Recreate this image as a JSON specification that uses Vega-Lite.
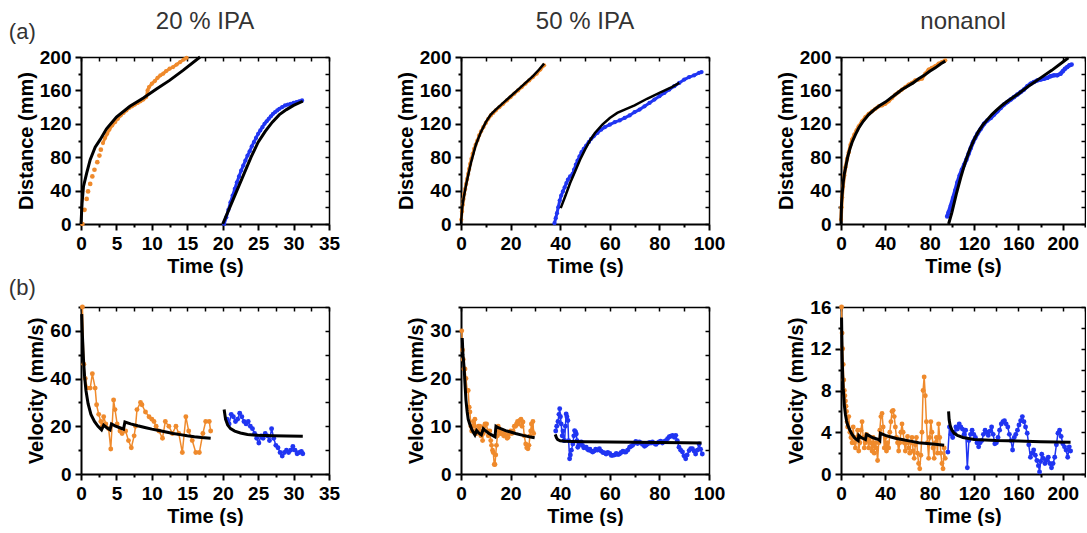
{
"$schema":"https://vega.github.io/schema/vega-lite/v6.json",
"background":"white",
"padding":{"left":8,"top":10,"right":0,"bottom":0},
"title":{"text":"(a)","anchor":"start","frame":"bounds","fontSize":22,"font":"Liberation Sans","fontWeight":"normal","color":"#333333","dy":48,"dx":0},
"columns":3,
"bounds":"flush",
"spacing":{"row":83,"column":132},
"datasets":{
"d1":[
{"t":0.2,"v":0,"s":"os"},{"t":0.5,"v":17,"s":"os"},{"t":0.8,"v":30,"s":"os"},{"t":1.0,"v":39,"s":"os"},{"t":1.3,"v":48,"s":"os"},{"t":1.6,"v":57,"s":"os"},{"t":1.9,"v":65,"s":"os"},{"t":2.3,"v":74,"s":"os"},{"t":2.6,"v":82,"s":"os"},{"t":2.8,"v":89,"s":"os"},
{"t":3.1,"v":97,"s":"o"},{"t":3.4,"v":103,"s":"o"},{"t":3.7,"v":108,"s":"o"},{"t":4.0,"v":113,"s":"o"},{"t":4.4,"v":118,"s":"o"},{"t":4.8,"v":122,"s":"o"},{"t":5.2,"v":126,"s":"o"},{"t":5.6,"v":130,"s":"o"},{"t":6.0,"v":133,"s":"o"},{"t":6.4,"v":136,"s":"o"},{"t":6.8,"v":139,"s":"o"},{"t":7.2,"v":141,"s":"o"},{"t":7.6,"v":143,"s":"o"},{"t":8.0,"v":145,"s":"o"},{"t":8.4,"v":147,"s":"o"},{"t":8.8,"v":149,"s":"o"},{"t":9.2,"v":152,"s":"o"},{"t":9.4,"v":160,"s":"o"},{"t":9.6,"v":164,"s":"o"},{"t":10.0,"v":168,"s":"o"},{"t":10.4,"v":171,"s":"o"},{"t":10.8,"v":175,"s":"o"},{"t":11.2,"v":178,"s":"o"},{"t":11.6,"v":180,"s":"o"},{"t":12.0,"v":183,"s":"o"},{"t":12.5,"v":186,"s":"o"},{"t":13.0,"v":188,"s":"o"},{"t":13.5,"v":191,"s":"o"},{"t":14.0,"v":194,"s":"o"},{"t":14.5,"v":197,"s":"o"},{"t":14.9,"v":199,"s":"o"},
{"t":20.2,"v":0,"s":"b"},{"t":20.5,"v":8,"s":"b"},{"t":20.8,"v":17,"s":"b"},{"t":21.1,"v":26,"s":"b"},{"t":21.4,"v":34,"s":"b"},{"t":21.7,"v":42,"s":"b"},{"t":22.0,"v":50,"s":"b"},{"t":22.3,"v":57,"s":"b"},{"t":22.6,"v":64,"s":"b"},{"t":22.9,"v":70,"s":"b"},{"t":23.2,"v":76,"s":"b"},{"t":23.5,"v":82,"s":"b"},{"t":23.8,"v":87,"s":"b"},{"t":24.1,"v":93,"s":"b"},{"t":24.4,"v":98,"s":"b"},{"t":24.7,"v":103,"s":"b"},{"t":25.0,"v":108,"s":"b"},{"t":25.3,"v":112,"s":"b"},{"t":25.6,"v":116,"s":"b"},{"t":25.9,"v":120,"s":"b"},{"t":26.2,"v":123,"s":"b"},{"t":26.5,"v":126,"s":"b"},{"t":26.8,"v":129,"s":"b"},{"t":27.1,"v":132,"s":"b"},{"t":27.4,"v":134,"s":"b"},{"t":27.7,"v":136,"s":"b"},{"t":28.0,"v":138,"s":"b"},{"t":28.4,"v":140,"s":"b"},{"t":28.8,"v":142,"s":"b"},{"t":29.2,"v":143,"s":"b"},{"t":29.6,"v":144,"s":"b"},{"t":30.0,"v":145,"s":"b"},{"t":30.4,"v":146,"s":"b"},{"t":30.8,"v":147,"s":"b"},{"t":31.2,"v":148,"s":"b"},
{"t":0,"v":0,"s":"fo"},{"t":0.15,"v":25,"s":"fo"},{"t":0.35,"v":45,"s":"fo"},{"t":0.8,"v":61,"s":"fo"},{"t":1.3,"v":77,"s":"fo"},{"t":2,"v":92,"s":"fo"},{"t":2.7,"v":101,"s":"fo"},{"t":3.6,"v":114,"s":"fo"},{"t":5,"v":128,"s":"fo"},{"t":6.9,"v":141,"s":"fo"},{"t":8.8,"v":151,"s":"fo"},{"t":10.7,"v":162,"s":"fo"},{"t":12.5,"v":172,"s":"fo"},{"t":14.4,"v":184,"s":"fo"},{"t":16.8,"v":200,"s":"fo"},
{"t":20,"v":0,"s":"fb"},{"t":21,"v":20,"s":"fb"},{"t":22,"v":40,"s":"fb"},{"t":23,"v":60,"s":"fb"},{"t":24,"v":80,"s":"fb"},{"t":25,"v":98,"s":"fb"},{"t":26,"v":111,"s":"fb"},{"t":27,"v":122,"s":"fb"},{"t":28,"v":131,"s":"fb"},{"t":29,"v":137,"s":"fb"},{"t":30,"v":142,"s":"fb"},{"t":31.3,"v":147,"s":"fb"}
],
"d2":[
{"t":0.1,"v":5,"s":"o"},{"t":0.4,"v":15,"s":"o"},{"t":0.7,"v":23,"s":"o"},{"t":1.0,"v":30,"s":"o"},{"t":1.3,"v":36,"s":"o"},{"t":1.7,"v":42,"s":"o"},{"t":2.1,"v":48,"s":"o"},{"t":2.5,"v":54,"s":"o"},{"t":2.9,"v":60,"s":"o"},{"t":3.3,"v":66,"s":"o"},{"t":3.7,"v":72,"s":"o"},{"t":4.2,"v":78,"s":"o"},{"t":4.7,"v":84,"s":"o"},{"t":5.3,"v":90,"s":"o"},{"t":5.9,"v":95,"s":"o"},{"t":6.6,"v":100,"s":"o"},{"t":7.3,"v":106,"s":"o"},{"t":8.1,"v":111,"s":"o"},{"t":9,"v":116,"s":"o"},{"t":10,"v":121,"s":"o"},{"t":11,"v":126,"s":"o"},{"t":12,"v":130,"s":"o"},{"t":13,"v":133,"s":"o"},{"t":14,"v":136,"s":"o"},{"t":15.5,"v":140,"s":"o"},{"t":17,"v":144,"s":"o"},{"t":18.5,"v":148,"s":"o"},{"t":20,"v":152,"s":"o"},{"t":21.5,"v":156,"s":"o"},{"t":23,"v":160,"s":"o"},{"t":24.5,"v":164,"s":"o"},{"t":26,"v":168,"s":"o"},{"t":27.5,"v":172,"s":"o"},{"t":29,"v":176,"s":"o"},{"t":30.5,"v":180,"s":"o"},{"t":32,"v":185,"s":"o"},{"t":33.5,"v":190,"s":"o"},
{"t":37.7,"v":1,"s":"b"},{"t":38.2,"v":7,"s":"b"},{"t":38.7,"v":13,"s":"b"},{"t":39.2,"v":20,"s":"b"},{"t":39.8,"v":28,"s":"b"},{"t":40.4,"v":34,"s":"b"},{"t":41.1,"v":39,"s":"b"},{"t":41.8,"v":44,"s":"b"},{"t":42.5,"v":49,"s":"b"},{"t":43.1,"v":53,"s":"b"},{"t":44,"v":57,"s":"b"},{"t":45,"v":60,"s":"b"},{"t":45.6,"v":65,"s":"b"},{"t":46.3,"v":71,"s":"b"},{"t":47,"v":76,"s":"b"},{"t":47.8,"v":81,"s":"b"},{"t":48.6,"v":86,"s":"b"},{"t":49.5,"v":90,"s":"b"},{"t":50.5,"v":94,"s":"b"},{"t":51.5,"v":98,"s":"b"},{"t":52.5,"v":102,"s":"b"},{"t":53.5,"v":105,"s":"b"},{"t":55,"v":109,"s":"b"},{"t":56.5,"v":113,"s":"b"},{"t":58,"v":116,"s":"b"},{"t":60,"v":119,"s":"b"},{"t":62,"v":122,"s":"b"},{"t":64,"v":124,"s":"b"},{"t":66,"v":127,"s":"b"},{"t":68,"v":130,"s":"b"},{"t":70,"v":134,"s":"b"},{"t":72,"v":137,"s":"b"},{"t":74,"v":141,"s":"b"},{"t":76,"v":145,"s":"b"},{"t":78,"v":149,"s":"b"},{"t":80,"v":153,"s":"b"},{"t":82,"v":157,"s":"b"},{"t":84,"v":161,"s":"b"},{"t":86,"v":165,"s":"b"},{"t":88,"v":169,"s":"b"},{"t":90,"v":173,"s":"b"},{"t":92,"v":176,"s":"b"},{"t":94,"v":178,"s":"b"},{"t":96,"v":181,"s":"b"},{"t":97,"v":182,"s":"b"},
{"t":0,"v":0,"s":"fo"},{"t":0.5,"v":20,"s":"fo"},{"t":1,"v":30,"s":"fo"},{"t":2,"v":46,"s":"fo"},{"t":3,"v":60,"s":"fo"},{"t":4,"v":73,"s":"fo"},{"t":6,"v":95,"s":"fo"},{"t":8,"v":110,"s":"fo"},{"t":10,"v":122,"s":"fo"},{"t":12,"v":131,"s":"fo"},{"t":14,"v":137,"s":"fo"},{"t":17,"v":145,"s":"fo"},{"t":20,"v":153,"s":"fo"},{"t":23,"v":161,"s":"fo"},{"t":26,"v":169,"s":"fo"},{"t":29,"v":177,"s":"fo"},{"t":31.5,"v":185,"s":"fo"},{"t":33.5,"v":192,"s":"fo"},
{"t":40.2,"v":19,"s":"fb"},{"t":42,"v":33,"s":"fb"},{"t":44,"v":49,"s":"fb"},{"t":46,"v":63,"s":"fb"},{"t":48,"v":77,"s":"fb"},{"t":50,"v":89,"s":"fb"},{"t":52,"v":100,"s":"fb"},{"t":54,"v":109,"s":"fb"},{"t":57,"v":119,"s":"fb"},{"t":60,"v":127,"s":"fb"},{"t":63,"v":133,"s":"fb"},{"t":66,"v":137,"s":"fb"},{"t":70,"v":142,"s":"fb"},{"t":75,"v":150,"s":"fb"},{"t":80,"v":157,"s":"fb"},{"t":85,"v":164,"s":"fb"},{"t":88,"v":169,"s":"fb"}
],
"d3":[
{"t":0,"v":5,"s":"o"},{"t":0.5,"v":20,"s":"o"},{"t":1,"v":32,"s":"o"},{"t":1.8,"v":45,"s":"o"},{"t":3,"v":58,"s":"o"},{"t":4,"v":68,"s":"o"},{"t":5.5,"v":78,"s":"o"},{"t":7,"v":86,"s":"o"},{"t":8.6,"v":95,"s":"o"},{"t":10,"v":101,"s":"o"},{"t":12,"v":107,"s":"o"},{"t":14,"v":112,"s":"o"},{"t":16,"v":117,"s":"o"},{"t":19,"v":123,"s":"o"},{"t":22,"v":128,"s":"o"},{"t":25,"v":132,"s":"o"},{"t":28,"v":135,"s":"o"},{"t":31,"v":138,"s":"o"},{"t":34,"v":141,"s":"o"},{"t":37,"v":142,"s":"o"},{"t":40,"v":144,"s":"o"},{"t":43,"v":147,"s":"o"},{"t":46,"v":151,"s":"o"},{"t":49,"v":155,"s":"o"},{"t":52,"v":158,"s":"o"},{"t":55,"v":161,"s":"o"},{"t":58,"v":164,"s":"o"},{"t":61,"v":167,"s":"o"},{"t":64,"v":169,"s":"o"},{"t":67,"v":172,"s":"o"},{"t":70,"v":173,"s":"o"},{"t":73,"v":174,"s":"o"},{"t":76,"v":180,"s":"o"},{"t":79,"v":185,"s":"o"},{"t":82,"v":187,"s":"o"},{"t":85,"v":189,"s":"o"},{"t":88,"v":192,"s":"o"},{"t":91,"v":194,"s":"o"},{"t":94,"v":196,"s":"o"},
{"t":95.7,"v":9,"s":"b"},{"t":97,"v":14,"s":"b"},{"t":99,"v":22,"s":"b"},{"t":101,"v":31,"s":"b"},{"t":103,"v":40,"s":"b"},{"t":105,"v":50,"s":"b"},{"t":107,"v":58,"s":"b"},{"t":109,"v":65,"s":"b"},{"t":111,"v":71,"s":"b"},{"t":113,"v":77,"s":"b"},{"t":115,"v":84,"s":"b"},{"t":117,"v":91,"s":"b"},{"t":119,"v":98,"s":"b"},{"t":121,"v":103,"s":"b"},{"t":123,"v":108,"s":"b"},{"t":126,"v":114,"s":"b"},{"t":129,"v":120,"s":"b"},{"t":132,"v":124,"s":"b"},{"t":135,"v":127,"s":"b"},{"t":138,"v":131,"s":"b"},{"t":141,"v":135,"s":"b"},{"t":144,"v":139,"s":"b"},{"t":147,"v":143,"s":"b"},{"t":150,"v":146,"s":"b"},{"t":153,"v":149,"s":"b"},{"t":156,"v":152,"s":"b"},{"t":159,"v":155,"s":"b"},{"t":162,"v":158,"s":"b"},{"t":165,"v":161,"s":"b"},{"t":168,"v":165,"s":"b"},{"t":171,"v":168,"s":"b"},{"t":174,"v":170,"s":"b"},{"t":177,"v":172,"s":"b"},{"t":180,"v":173,"s":"b"},{"t":183,"v":174,"s":"b"},{"t":186,"v":175,"s":"b"},{"t":189,"v":177,"s":"b"},{"t":192,"v":178,"s":"b"},{"t":195,"v":178,"s":"b"},{"t":198,"v":180,"s":"b"},{"t":200,"v":183,"s":"b"},{"t":202,"v":186,"s":"b"},{"t":204,"v":188,"s":"b"},{"t":206,"v":190,"s":"b"},{"t":208,"v":191,"s":"b"},
{"t":0,"v":0,"s":"fo"},{"t":0.5,"v":25,"s":"fo"},{"t":1,"v":35,"s":"fo"},{"t":2,"v":50,"s":"fo"},{"t":3,"v":60,"s":"fo"},{"t":4.5,"v":70,"s":"fo"},{"t":6,"v":80,"s":"fo"},{"t":8,"v":90,"s":"fo"},{"t":10,"v":98,"s":"fo"},{"t":13,"v":107,"s":"fo"},{"t":16,"v":115,"s":"fo"},{"t":20,"v":123,"s":"fo"},{"t":25,"v":131,"s":"fo"},{"t":30,"v":137,"s":"fo"},{"t":35,"v":142,"s":"fo"},{"t":40,"v":146,"s":"fo"},{"t":45,"v":151,"s":"fo"},{"t":50,"v":156,"s":"fo"},{"t":55,"v":161,"s":"fo"},{"t":60,"v":165,"s":"fo"},{"t":65,"v":169,"s":"fo"},{"t":70,"v":174,"s":"fo"},{"t":75,"v":178,"s":"fo"},{"t":80,"v":183,"s":"fo"},{"t":85,"v":187,"s":"fo"},{"t":90,"v":192,"s":"fo"},{"t":94,"v":195,"s":"fo"},
{"t":97,"v":0,"s":"fb"},{"t":100,"v":14,"s":"fb"},{"t":104,"v":36,"s":"fb"},{"t":108,"v":56,"s":"fb"},{"t":112,"v":74,"s":"fb"},{"t":116,"v":89,"s":"fb"},{"t":120,"v":101,"s":"fb"},{"t":124,"v":111,"s":"fb"},{"t":128,"v":119,"s":"fb"},{"t":132,"v":125,"s":"fb"},{"t":136,"v":131,"s":"fb"},{"t":140,"v":136,"s":"fb"},{"t":145,"v":142,"s":"fb"},{"t":150,"v":147,"s":"fb"},{"t":160,"v":156,"s":"fb"},{"t":170,"v":166,"s":"fb"},{"t":180,"v":175,"s":"fb"},{"t":190,"v":184,"s":"fb"},{"t":200,"v":194,"s":"fb"},{"t":205,"v":199,"s":"fb"}
],
"d4":[
{"t":0.2,"v":70,"s":"o"},{"t":0.4,"v":46,"s":"o"},{"t":0.6,"v":40,"s":"o"},{"t":0.9,"v":36,"s":"o"},{"t":1.3,"v":36,"s":"o"},{"t":1.6,"v":42,"s":"o"},{"t":2.0,"v":36,"s":"o"},{"t":2.2,"v":29,"s":"o"},{"t":2.5,"v":25,"s":"o"},{"t":2.8,"v":22,"s":"o"},{"t":3.0,"v":20,"s":"o"},{"t":3.2,"v":24,"s":"o"},{"t":3.5,"v":21,"s":"o"},{"t":3.9,"v":19,"s":"o"},{"t":4.2,"v":10.5,"s":"o"},{"t":4.6,"v":31,"s":"o"},{"t":4.8,"v":27,"s":"o"},{"t":5.1,"v":21,"s":"o"},{"t":5.5,"v":18,"s":"o"},{"t":5.8,"v":17,"s":"o"},{"t":6.3,"v":18,"s":"o"},{"t":6.7,"v":14,"s":"o"},{"t":7.1,"v":11,"s":"o"},{"t":7.5,"v":16,"s":"o"},{"t":7.7,"v":20,"s":"o"},{"t":7.9,"v":27,"s":"o"},{"t":8.4,"v":30,"s":"o"},{"t":8.6,"v":29,"s":"o"},{"t":9.1,"v":26,"s":"o"},{"t":9.6,"v":24,"s":"o"},{"t":10.0,"v":23,"s":"o"},{"t":10.3,"v":22,"s":"o"},{"t":10.6,"v":20,"s":"o"},{"t":11.0,"v":18,"s":"o"},{"t":11.5,"v":15,"s":"o"},{"t":11.9,"v":22,"s":"o"},{"t":12.4,"v":20,"s":"o"},{"t":12.9,"v":17,"s":"o"},{"t":13.4,"v":20,"s":"o"},{"t":13.8,"v":17,"s":"o"},{"t":14.3,"v":9,"s":"o"},{"t":14.8,"v":24,"s":"o"},{"t":15.2,"v":18,"s":"o"},{"t":15.7,"v":14,"s":"o"},{"t":16.2,"v":9,"s":"o"},{"t":16.7,"v":9,"s":"o"},{"t":17.2,"v":17,"s":"o"},{"t":17.6,"v":22,"s":"o"},{"t":18.1,"v":22,"s":"o"},{"t":18.3,"v":18,"s":"o"},
{"t":20.6,"v":23,"s":"b"},{"t":20.9,"v":21,"s":"b"},{"t":21.2,"v":25,"s":"b"},{"t":21.5,"v":24,"s":"b"},{"t":21.8,"v":22,"s":"b"},{"t":22.1,"v":23,"s":"b"},{"t":22.4,"v":25.5,"s":"b"},{"t":22.7,"v":24,"s":"b"},{"t":23,"v":22,"s":"b"},{"t":23.3,"v":21,"s":"b"},{"t":23.6,"v":22,"s":"b"},{"t":23.9,"v":20,"s":"b"},{"t":24.2,"v":19,"s":"b"},{"t":24.5,"v":17,"s":"b"},{"t":24.8,"v":15,"s":"b"},{"t":25.1,"v":13,"s":"b"},{"t":25.4,"v":16,"s":"b"},{"t":25.7,"v":15,"s":"b"},{"t":26,"v":17,"s":"b"},{"t":26.3,"v":16,"s":"b"},{"t":26.6,"v":14,"s":"b"},{"t":26.9,"v":19,"s":"b"},{"t":27.2,"v":15,"s":"b"},{"t":27.5,"v":12,"s":"b"},{"t":27.8,"v":11,"s":"b"},{"t":28.1,"v":9,"s":"b"},{"t":28.4,"v":7.5,"s":"b"},{"t":28.7,"v":9,"s":"b"},{"t":29,"v":10,"s":"b"},{"t":29.3,"v":9,"s":"b"},{"t":29.6,"v":10,"s":"b"},{"t":29.9,"v":11.5,"s":"b"},{"t":30.2,"v":10,"s":"b"},{"t":30.5,"v":8.5,"s":"b"},{"t":30.8,"v":9,"s":"b"},{"t":31.1,"v":9.5,"s":"b"},{"t":31.3,"v":8.5,"s":"b"},
{"t":0.1,"v":67,"s":"fo"},{"t":0.2,"v":58,"s":"fo"},{"t":0.35,"v":48,"s":"fo"},{"t":0.5,"v":41,"s":"fo"},{"t":0.7,"v":35,"s":"fo"},{"t":1.0,"v":29.5,"s":"fo"},{"t":1.4,"v":25,"s":"fo"},{"t":1.9,"v":22,"s":"fo"},{"t":2.4,"v":20,"s":"fo"},{"t":2.9,"v":18.5,"s":"fo"},{"t":3.2,"v":20.5,"s":"fo"},{"t":3.6,"v":19.5,"s":"fo"},{"t":4.1,"v":18.5,"s":"fo"},{"t":4.3,"v":21,"s":"fo"},{"t":4.8,"v":20.2,"s":"fo"},{"t":5.4,"v":19.5,"s":"fo"},{"t":6.0,"v":18.8,"s":"fo"},{"t":6.2,"v":21.8,"s":"fo"},{"t":7,"v":21,"s":"fo"},{"t":8,"v":20.2,"s":"fo"},{"t":9,"v":19.5,"s":"fo"},{"t":10,"v":18.8,"s":"fo"},{"t":11,"v":18.2,"s":"fo"},{"t":12,"v":17.6,"s":"fo"},{"t":13,"v":17,"s":"fo"},{"t":14,"v":16.5,"s":"fo"},{"t":15,"v":16,"s":"fo"},{"t":16,"v":15.6,"s":"fo"},{"t":17,"v":15.3,"s":"fo"},{"t":18.3,"v":15,"s":"fo"},
{"t":20.2,"v":27,"s":"fb"},{"t":20.4,"v":23,"s":"fb"},{"t":20.7,"v":20.5,"s":"fb"},{"t":21.1,"v":19,"s":"fb"},{"t":21.7,"v":18,"s":"fb"},{"t":22.5,"v":17.2,"s":"fb"},{"t":23.5,"v":16.6,"s":"fb"},{"t":25,"v":16.2,"s":"fb"},{"t":27,"v":16,"s":"fb"},{"t":29,"v":15.9,"s":"fb"},{"t":31.3,"v":15.8,"s":"fb"}
],
"d5":[
{"t":0.3,"v":30,"s":"o"},{"t":0.6,"v":26,"s":"o"},{"t":0.9,"v":24,"s":"o"},{"t":1.2,"v":22,"s":"o"},{"t":1.6,"v":22,"s":"o"},{"t":2.0,"v":20,"s":"o"},{"t":2.5,"v":17.5,"s":"o"},{"t":2.9,"v":17.5,"s":"o"},{"t":3.3,"v":14,"s":"o"},{"t":3.6,"v":13,"s":"o"},{"t":4.0,"v":10,"s":"o"},{"t":4.3,"v":9,"s":"o"},{"t":4.7,"v":10,"s":"o"},{"t":5.0,"v":11,"s":"o"},{"t":5.3,"v":10,"s":"o"},{"t":5.6,"v":11.5,"s":"o"},{"t":6.0,"v":9,"s":"o"},{"t":6.3,"v":8.5,"s":"o"},{"t":6.7,"v":9,"s":"o"},{"t":7.0,"v":10,"s":"o"},{"t":7.3,"v":9,"s":"o"},{"t":7.6,"v":10,"s":"o"},{"t":8.0,"v":8,"s":"o"},{"t":8.4,"v":9,"s":"o"},{"t":8.7,"v":7,"s":"o"},{"t":9.0,"v":8.5,"s":"o"},{"t":9.4,"v":10,"s":"o"},{"t":9.7,"v":10.5,"s":"o"},{"t":10.3,"v":10.5,"s":"o"},{"t":10.7,"v":9,"s":"o"},{"t":11.0,"v":8,"s":"o"},{"t":11.6,"v":9,"s":"o"},{"t":12.0,"v":7,"s":"o"},{"t":12.3,"v":6,"s":"o"},{"t":12.7,"v":5,"s":"o"},{"t":13.0,"v":4.5,"s":"o"},{"t":13.4,"v":2,"s":"o"},{"t":13.7,"v":2,"s":"o"},{"t":14.0,"v":4,"s":"o"},{"t":14.3,"v":6,"s":"o"},{"t":14.7,"v":8,"s":"o"},{"t":15.0,"v":10,"s":"o"},{"t":15.5,"v":9,"s":"o"},{"t":16.0,"v":8.5,"s":"o"},{"t":16.3,"v":8.5,"s":"o"},{"t":16.8,"v":9,"s":"o"},{"t":17.2,"v":8,"s":"o"},{"t":17.7,"v":8.8,"s":"o"},{"t":18.2,"v":8,"s":"o"},{"t":18.6,"v":7.5,"s":"o"},{"t":19.0,"v":7.7,"s":"o"},{"t":19.5,"v":8.5,"s":"o"},{"t":20.0,"v":9,"s":"o"},{"t":20.5,"v":8.5,"s":"o"},{"t":21.0,"v":9,"s":"o"},{"t":21.5,"v":10,"s":"o"},{"t":22.0,"v":10,"s":"o"},{"t":22.4,"v":10.5,"s":"o"},{"t":22.8,"v":11,"s":"o"},{"t":23.2,"v":10.5,"s":"o"},{"t":23.7,"v":11.2,"s":"o"},{"t":24.2,"v":11.5,"s":"o"},{"t":24.6,"v":10,"s":"o"},{"t":25.0,"v":10.9,"s":"o"},{"t":25.5,"v":8,"s":"o"},{"t":26.1,"v":6.3,"s":"o"},{"t":26.5,"v":5.5,"s":"o"},{"t":27.0,"v":5.3,"s":"o"},{"t":27.4,"v":6,"s":"o"},{"t":27.8,"v":8,"s":"o"},{"t":28.1,"v":9,"s":"o"},{"t":28.4,"v":10.5,"s":"o"},{"t":28.7,"v":9,"s":"o"},{"t":29.0,"v":11,"s":"o"},{"t":29.3,"v":8.5,"s":"o"},
{"t":38.2,"v":9,"s":"b"},{"t":38.6,"v":10,"s":"b"},{"t":39.1,"v":11,"s":"b"},{"t":39.5,"v":12.5,"s":"b"},{"t":39.8,"v":13.7,"s":"b"},{"t":40.1,"v":12,"s":"b"},{"t":40.4,"v":10.5,"s":"b"},{"t":40.8,"v":8,"s":"b"},{"t":41.1,"v":9,"s":"b"},{"t":41.5,"v":7,"s":"b"},{"t":41.8,"v":7,"s":"b"},{"t":42.1,"v":10,"s":"b"},{"t":42.4,"v":12.6,"s":"b"},{"t":42.7,"v":12,"s":"b"},{"t":43.1,"v":11.2,"s":"b"},{"t":43.4,"v":7,"s":"b"},{"t":43.8,"v":3.2,"s":"b"},{"t":44.1,"v":4,"s":"b"},{"t":44.5,"v":5,"s":"b"},{"t":45.1,"v":6.3,"s":"b"},{"t":45.5,"v":8,"s":"b"},{"t":45.8,"v":9.1,"s":"b"},{"t":46.2,"v":8.8,"s":"b"},{"t":46.5,"v":8.4,"s":"b"},{"t":46.8,"v":7,"s":"b"},{"t":47.1,"v":5.6,"s":"b"},{"t":47.5,"v":6,"s":"b"},{"t":48,"v":6.5,"s":"b"},{"t":48.5,"v":6.7,"s":"b"},{"t":49,"v":6,"s":"b"},{"t":49.5,"v":5.5,"s":"b"},{"t":50,"v":5.6,"s":"b"},{"t":50.5,"v":5.6,"s":"b"},{"t":51,"v":5.2,"s":"b"},{"t":51.5,"v":5,"s":"b"},{"t":52,"v":5.2,"s":"b"},{"t":52.5,"v":4.8,"s":"b"},{"t":53.1,"v":4.6,"s":"b"},{"t":53.7,"v":4.8,"s":"b"},{"t":54.3,"v":5.2,"s":"b"},{"t":55,"v":5,"s":"b"},{"t":55.8,"v":5.3,"s":"b"},{"t":56.5,"v":4.8,"s":"b"},{"t":57.2,"v":4.5,"s":"b"},{"t":58,"v":4.4,"s":"b"},{"t":58.5,"v":4.2,"s":"b"},{"t":59.2,"v":4.5,"s":"b"},{"t":60,"v":4.3,"s":"b"},{"t":60.6,"v":3.9,"s":"b"},{"t":61.2,"v":3.9,"s":"b"},{"t":62,"v":4,"s":"b"},{"t":62.6,"v":4.3,"s":"b"},{"t":63.3,"v":4.1,"s":"b"},{"t":63.9,"v":4.2,"s":"b"},{"t":64.6,"v":4.5,"s":"b"},{"t":65.3,"v":4.8,"s":"b"},{"t":66,"v":4.6,"s":"b"},{"t":66.5,"v":4.6,"s":"b"},{"t":67.2,"v":5,"s":"b"},{"t":68,"v":5.6,"s":"b"},{"t":68.6,"v":5.8,"s":"b"},{"t":69.2,"v":6,"s":"b"},{"t":70,"v":6.5,"s":"b"},{"t":70.5,"v":6.8,"s":"b"},{"t":71.2,"v":6.4,"s":"b"},{"t":71.9,"v":6.7,"s":"b"},{"t":72.6,"v":6.5,"s":"b"},{"t":73.2,"v":6.2,"s":"b"},{"t":74,"v":5.8,"s":"b"},{"t":74.6,"v":6,"s":"b"},{"t":75.3,"v":6.3,"s":"b"},{"t":76,"v":6.6,"s":"b"},{"t":76.6,"v":6.5,"s":"b"},{"t":77.2,"v":6.7,"s":"b"},{"t":78,"v":6.4,"s":"b"},{"t":78.6,"v":6.2,"s":"b"},{"t":79.2,"v":6.5,"s":"b"},{"t":79.9,"v":6.7,"s":"b"},{"t":80.5,"v":6.9,"s":"b"},{"t":81.2,"v":6.5,"s":"b"},{"t":82,"v":6.8,"s":"b"},{"t":82.6,"v":7,"s":"b"},{"t":83.3,"v":7.4,"s":"b"},{"t":84,"v":7.8,"s":"b"},{"t":84.6,"v":7.9,"s":"b"},{"t":85.3,"v":8.1,"s":"b"},{"t":86,"v":7.7,"s":"b"},{"t":86.6,"v":8.1,"s":"b"},{"t":87.2,"v":7,"s":"b"},{"t":87.9,"v":5.6,"s":"b"},{"t":88.6,"v":5,"s":"b"},{"t":89.3,"v":4.6,"s":"b"},{"t":89.9,"v":3.8,"s":"b"},{"t":90.6,"v":3.2,"s":"b"},{"t":91.2,"v":4,"s":"b"},{"t":92,"v":4.9,"s":"b"},{"t":92.6,"v":5.3,"s":"b"},{"t":93.3,"v":5.3,"s":"b"},{"t":94,"v":4.8,"s":"b"},{"t":94.6,"v":4.2,"s":"b"},{"t":95.3,"v":5,"s":"b"},{"t":96,"v":6.3,"s":"b"},{"t":96.6,"v":5.2,"s":"b"},{"t":97.3,"v":4.2,"s":"b"},
{"t":0.5,"v":28.5,"s":"fo"},{"t":0.8,"v":25,"s":"fo"},{"t":1.3,"v":22,"s":"fo"},{"t":1.6,"v":19,"s":"fo"},{"t":2.0,"v":15.5,"s":"fo"},{"t":2.5,"v":13,"s":"fo"},{"t":2.9,"v":11.5,"s":"fo"},{"t":3.5,"v":10.5,"s":"fo"},{"t":4.3,"v":9.4,"s":"fo"},{"t":5.0,"v":8.7,"s":"fo"},{"t":5.6,"v":8.2,"s":"fo"},{"t":6.3,"v":9.1,"s":"fo"},{"t":7.0,"v":8.7,"s":"fo"},{"t":7.6,"v":8.4,"s":"fo"},{"t":8.2,"v":8.2,"s":"fo"},{"t":9.0,"v":9.5,"s":"fo"},{"t":9.6,"v":9.2,"s":"fo"},{"t":10.3,"v":8.9,"s":"fo"},{"t":11.3,"v":8.5,"s":"fo"},{"t":12.3,"v":8.2,"s":"fo"},{"t":13.7,"v":7.8,"s":"fo"},{"t":14.1,"v":10,"s":"fo"},{"t":15,"v":9.7,"s":"fo"},{"t":16,"v":9.5,"s":"fo"},{"t":18,"v":9.1,"s":"fo"},{"t":20,"v":8.8,"s":"fo"},{"t":22,"v":8.5,"s":"fo"},{"t":25,"v":8.1,"s":"fo"},{"t":27.5,"v":7.8,"s":"fo"},{"t":29.7,"v":7.6,"s":"fo"},
{"t":38,"v":8.3,"s":"fb"},{"t":38.5,"v":7.6,"s":"fb"},{"t":39,"v":7.2,"s":"fb"},{"t":40,"v":6.95,"s":"fb"},{"t":42,"v":6.85,"s":"fb"},{"t":45,"v":6.8,"s":"fb"},{"t":50,"v":6.75,"s":"fb"},{"t":60,"v":6.7,"s":"fb"},{"t":70,"v":6.65,"s":"fb"},{"t":80,"v":6.6,"s":"fb"},{"t":90,"v":6.55,"s":"fb"},{"t":97,"v":6.5,"s":"fb"}
],
"d6":[
{"t":0.5,"v":16,"s":"o"},{"t":1,"v":13.5,"s":"o"},{"t":1.5,"v":12,"s":"o"},{"t":2,"v":10.5,"s":"o"},{"t":2.5,"v":9,"s":"o"},{"t":3,"v":8,"s":"o"},{"t":3.5,"v":7.5,"s":"o"},{"t":4,"v":7,"s":"o"},{"t":4.5,"v":6.5,"s":"o"},{"t":5,"v":6,"s":"o"},{"t":5.5,"v":5,"s":"o"},{"t":6,"v":4.5,"s":"o"},{"t":7,"v":5.5,"s":"o"},{"t":8,"v":4,"s":"o"},{"t":9,"v":3.5,"s":"o"},{"t":10,"v":3,"s":"o"},{"t":11,"v":4.5,"s":"o"},{"t":12,"v":3,"s":"o"},{"t":13,"v":2.5,"s":"o"},{"t":14,"v":3.5,"s":"o"},{"t":15,"v":4.2,"s":"o"},{"t":16,"v":2.2,"s":"o"},{"t":17,"v":3,"s":"o"},{"t":18,"v":4.2,"s":"o"},{"t":19,"v":5,"s":"o"},{"t":20,"v":3.5,"s":"o"},{"t":21,"v":2.5,"s":"o"},{"t":22,"v":3,"s":"o"},{"t":23,"v":3.8,"s":"o"},{"t":24,"v":3.2,"s":"o"},{"t":25,"v":2.5,"s":"o"},{"t":26,"v":3.5,"s":"o"},{"t":27,"v":3,"s":"o"},{"t":28,"v":2.2,"s":"o"},{"t":29,"v":3.5,"s":"o"},{"t":30,"v":2,"s":"o"},{"t":31,"v":3,"s":"o"},{"t":32,"v":2.5,"s":"o"},{"t":33,"v":1.3,"s":"o"},{"t":34,"v":3,"s":"o"},{"t":35,"v":4.2,"s":"o"},{"t":36,"v":5.5,"s":"o"},{"t":37,"v":5.8,"s":"o"},{"t":38,"v":4.5,"s":"o"},{"t":39,"v":2.5,"s":"o"},{"t":40,"v":3.5,"s":"o"},{"t":41,"v":2.2,"s":"o"},{"t":42,"v":3,"s":"o"},{"t":43,"v":2.5,"s":"o"},{"t":44,"v":4,"s":"o"},{"t":45,"v":5,"s":"o"},{"t":46,"v":6,"s":"o"},{"t":47,"v":6.1,"s":"o"},{"t":48,"v":5.5,"s":"o"},{"t":49,"v":4.5,"s":"o"},{"t":50,"v":3.5,"s":"o"},{"t":51,"v":3,"s":"o"},{"t":52,"v":2.2,"s":"o"},{"t":53,"v":3,"s":"o"},{"t":54,"v":4,"s":"o"},{"t":55,"v":4.8,"s":"o"},{"t":56,"v":4,"s":"o"},{"t":57,"v":3,"s":"o"},{"t":58,"v":2.2,"s":"o"},{"t":59,"v":3,"s":"o"},{"t":60,"v":3.6,"s":"o"},{"t":61,"v":2.5,"s":"o"},{"t":62,"v":2,"s":"o"},{"t":63,"v":3,"s":"o"},{"t":64,"v":3.5,"s":"o"},{"t":65,"v":2.2,"s":"o"},{"t":66,"v":1.5,"s":"o"},{"t":67,"v":2.8,"s":"o"},{"t":68,"v":3.5,"s":"o"},{"t":69,"v":2,"s":"o"},{"t":70,"v":1,"s":"o"},{"t":71,"v":0.5,"s":"o"},{"t":72,"v":1.8,"s":"o"},{"t":73,"v":4,"s":"o"},{"t":74,"v":8,"s":"o"},{"t":75,"v":9.3,"s":"o"},{"t":76,"v":7.5,"s":"o"},{"t":77,"v":5,"s":"o"},{"t":78,"v":3,"s":"o"},{"t":79,"v":1.5,"s":"o"},{"t":80,"v":3.5,"s":"o"},{"t":81,"v":5,"s":"o"},{"t":82,"v":4,"s":"o"},{"t":83,"v":2.5,"s":"o"},{"t":84,"v":1.5,"s":"o"},{"t":85,"v":3,"s":"o"},{"t":86,"v":3.5,"s":"o"},{"t":87,"v":2,"s":"o"},{"t":88,"v":4.8,"s":"o"},{"t":89,"v":3.5,"s":"o"},{"t":90,"v":2,"s":"o"},{"t":91,"v":1,"s":"o"},{"t":92,"v":0.5,"s":"o"},{"t":93,"v":2.5,"s":"o"},{"t":94,"v":1.5,"s":"o"},
{"t":96.4,"v":2.1,"s":"b"},{"t":97.8,"v":4.5,"s":"b"},{"t":99.2,"v":3.8,"s":"b"},{"t":100.7,"v":3.5,"s":"b"},{"t":102.1,"v":4,"s":"b"},{"t":103.6,"v":4.5,"s":"b"},{"t":105,"v":4.3,"s":"b"},{"t":106.6,"v":4.8,"s":"b"},{"t":108,"v":4.5,"s":"b"},{"t":109.5,"v":4.3,"s":"b"},{"t":111,"v":3.8,"s":"b"},{"t":112.4,"v":4.2,"s":"b"},{"t":113.9,"v":0.6,"s":"b"},{"t":115.3,"v":3.2,"s":"b"},{"t":116.8,"v":3.8,"s":"b"},{"t":118.2,"v":4.2,"s":"b"},{"t":119.7,"v":3.8,"s":"b"},{"t":121.2,"v":3.5,"s":"b"},{"t":122.6,"v":3,"s":"b"},{"t":124.1,"v":2.6,"s":"b"},{"t":125.5,"v":3,"s":"b"},{"t":127,"v":3.2,"s":"b"},{"t":128.4,"v":3.8,"s":"b"},{"t":129.9,"v":4.2,"s":"b"},{"t":131.4,"v":4,"s":"b"},{"t":132.8,"v":3.7,"s":"b"},{"t":134.3,"v":4.1,"s":"b"},{"t":135.8,"v":4.5,"s":"b"},{"t":137.2,"v":3.8,"s":"b"},{"t":138.7,"v":2.9,"s":"b"},{"t":140.1,"v":3,"s":"b"},{"t":141.6,"v":3.5,"s":"b"},{"t":143,"v":4.2,"s":"b"},{"t":144.5,"v":4.8,"s":"b"},{"t":146,"v":5,"s":"b"},{"t":147.4,"v":5.1,"s":"b"},{"t":148.9,"v":4.8,"s":"b"},{"t":150.4,"v":4.5,"s":"b"},{"t":151.8,"v":3.8,"s":"b"},{"t":153.3,"v":3.2,"s":"b"},{"t":154.7,"v":2.3,"s":"b"},{"t":156.2,"v":3.5,"s":"b"},{"t":157.6,"v":3.8,"s":"b"},{"t":159.1,"v":4.2,"s":"b"},{"t":160.5,"v":4.7,"s":"b"},{"t":162,"v":5.1,"s":"b"},{"t":163.5,"v":5.5,"s":"b"},{"t":165,"v":5,"s":"b"},{"t":166.4,"v":4.5,"s":"b"},{"t":167.9,"v":3.9,"s":"b"},{"t":169.3,"v":2.8,"s":"b"},{"t":170.8,"v":1.6,"s":"b"},{"t":172.2,"v":2,"s":"b"},{"t":173.7,"v":2.3,"s":"b"},{"t":175.2,"v":1.8,"s":"b"},{"t":176.6,"v":1.3,"s":"b"},{"t":178,"v":0.8,"s":"b"},{"t":179,"v":0.2,"s":"b"},{"t":180,"v":1.2,"s":"b"},{"t":181,"v":1.9,"s":"b"},{"t":182.5,"v":1.5,"s":"b"},{"t":183.9,"v":1,"s":"b"},{"t":185.4,"v":1.3,"s":"b"},{"t":186.9,"v":1.6,"s":"b"},{"t":188.3,"v":1,"s":"b"},{"t":189.8,"v":0.6,"s":"b"},{"t":191.2,"v":1,"s":"b"},{"t":192.7,"v":1.6,"s":"b"},{"t":194.2,"v":2.8,"s":"b"},{"t":195.6,"v":3.9,"s":"b"},{"t":197.1,"v":4.2,"s":"b"},{"t":198.5,"v":3.6,"s":"b"},{"t":200,"v":2.9,"s":"b"},{"t":201.5,"v":2.6,"s":"b"},{"t":202.9,"v":2.3,"s":"b"},{"t":204.4,"v":1.6,"s":"b"},{"t":205.8,"v":2.6,"s":"b"},{"t":207,"v":2.2,"s":"b"},
{"t":0.5,"v":15,"s":"fo"},{"t":1,"v":11.5,"s":"fo"},{"t":1.5,"v":9.5,"s":"fo"},{"t":2,"v":8.2,"s":"fo"},{"t":3,"v":6.6,"s":"fo"},{"t":4,"v":5.7,"s":"fo"},{"t":5,"v":5.1,"s":"fo"},{"t":6,"v":4.7,"s":"fo"},{"t":8,"v":4.2,"s":"fo"},{"t":10,"v":3.8,"s":"fo"},{"t":12,"v":3.5,"s":"fo"},{"t":14,"v":3.3,"s":"fo"},{"t":15.5,"v":3.2,"s":"fo"},{"t":16,"v":3.7,"s":"fo"},{"t":18,"v":3.5,"s":"fo"},{"t":20,"v":3.4,"s":"fo"},{"t":22,"v":3.3,"s":"fo"},{"t":23,"v":3.8,"s":"fo"},{"t":25,"v":3.7,"s":"fo"},{"t":28,"v":3.5,"s":"fo"},{"t":31,"v":3.4,"s":"fo"},{"t":34,"v":3.3,"s":"fo"},{"t":35,"v":3.2,"s":"fo"},{"t":35.5,"v":3.9,"s":"fo"},{"t":40,"v":3.7,"s":"fo"},{"t":45,"v":3.55,"s":"fo"},{"t":50,"v":3.4,"s":"fo"},{"t":55,"v":3.3,"s":"fo"},{"t":60,"v":3.2,"s":"fo"},{"t":65,"v":3.1,"s":"fo"},{"t":70,"v":3,"s":"fo"},{"t":75,"v":2.95,"s":"fo"},{"t":80,"v":2.9,"s":"fo"},{"t":85,"v":2.85,"s":"fo"},{"t":93,"v":2.75,"s":"fo"},
{"t":97,"v":6,"s":"fb"},{"t":97.5,"v":5.2,"s":"fb"},{"t":98.5,"v":4.6,"s":"fb"},{"t":100,"v":4.2,"s":"fb"},{"t":102,"v":3.9,"s":"fb"},{"t":105,"v":3.7,"s":"fb"},{"t":110,"v":3.5,"s":"fb"},{"t":115,"v":3.4,"s":"fb"},{"t":120,"v":3.3,"s":"fb"},{"t":130,"v":3.25,"s":"fb"},{"t":140,"v":3.2,"s":"fb"},{"t":160,"v":3.15,"s":"fb"},{"t":180,"v":3.1,"s":"fb"},{"t":207,"v":3.05,"s":"fb"}
]
},
"concat":[
{"width":248,"height":167,"title":{"text":"20 % IPA"},"data":{"name":"d1"},
 "resolve":{"axis":{"x":"independent","y":"independent"}},
 "layer":[
  {"transform":[{"filter":"datum.s=='o'"}],"mark":{"type":"line","color":"#EF8A2C","strokeWidth":3,"point":{"filled":true,"size":18,"color":"#EF8A2C"}},
   "encoding":{"x":{"field":"t","type":"quantitative","scale":{"domain":[0,35],"nice":false,"zero":false},"axis":{"orient":"bottom","values":[0,5,10,15,20,25,30,35],"title":"Time (s)"}},
               "y":{"field":"v","type":"quantitative","scale":{"domain":[0,200],"nice":false,"zero":false},"axis":{"orient":"left","values":[0,40,80,120,160,200],"title":"Distance (mm)"}}}},
  {"transform":[{"filter":"datum.s=='os'"}],"mark":{"type":"point","filled":true,"size":22,"color":"#EF8A2C","opacity":1},
   "encoding":{"x":{"field":"t","type":"quantitative","scale":{"domain":[0,35],"nice":false,"zero":false},"axis":{"orient":"bottom","values":[2.5,7.5,12.5,17.5,22.5,27.5,32.5],"labels":false,"domain":false,"title":null,"tickSize":3}},
               "y":{"field":"v","type":"quantitative","scale":{"domain":[0,200],"nice":false,"zero":false},"axis":{"orient":"left","values":[20,60,100,140,180],"labels":false,"domain":false,"title":null,"tickSize":3}}}},
  {"transform":[{"filter":"datum.s=='b'"}],"mark":{"type":"line","color":"#2035F2","strokeWidth":3,"point":{"filled":true,"size":18,"color":"#2035F2"}},
   "encoding":{"x":{"field":"t","type":"quantitative","scale":{"domain":[0,35],"nice":false,"zero":false},"axis":{"orient":"top","values":[0,2.5,5,7.5,10,12.5,15,17.5,20,22.5,25,27.5,30,32.5,35],"labels":false,"title":null,"tickSize":-4,"domainWidth":1.5,"tickWidth":1.5}},
               "y":{"field":"v","type":"quantitative","scale":{"domain":[0,200],"nice":false,"zero":false},"axis":{"orient":"right","values":[0,20,40,60,80,100,120,140,160,180,200],"labels":false,"title":null,"tickSize":-4,"domainWidth":1.5,"tickWidth":1.5}}}},
  {"transform":[{"filter":"datum.s=='fo'"}],"mark":{"type":"line","color":"black","strokeWidth":3},
   "encoding":{"x":{"field":"t","type":"quantitative","scale":{"domain":[0,35],"nice":false,"zero":false},"axis":null},"y":{"field":"v","type":"quantitative","scale":{"domain":[0,200],"nice":false,"zero":false},"axis":null}}},
  {"transform":[{"filter":"datum.s=='fb'"}],"mark":{"type":"line","color":"black","strokeWidth":3},
   "encoding":{"x":{"field":"t","type":"quantitative","scale":{"domain":[0,35],"nice":false,"zero":false},"axis":null},"y":{"field":"v","type":"quantitative","scale":{"domain":[0,200],"nice":false,"zero":false},"axis":null}}}
 ]},
{"width":248,"height":167,"title":{"text":"50 % IPA"},"data":{"name":"d2"},
 "resolve":{"axis":{"x":"independent","y":"independent"}},
 "layer":[
  {"transform":[{"filter":"datum.s=='o'"}],"mark":{"type":"line","color":"#EF8A2C","strokeWidth":3,"point":{"filled":true,"size":18,"color":"#EF8A2C"}},
   "encoding":{"x":{"field":"t","type":"quantitative","scale":{"domain":[0,100],"nice":false,"zero":false},"axis":{"orient":"bottom","values":[0,20,40,60,80,100],"title":"Time (s)"}},
               "y":{"field":"v","type":"quantitative","scale":{"domain":[0,200],"nice":false,"zero":false},"axis":{"orient":"left","values":[0,40,80,120,160,200],"title":"Distance (mm)"}}}},
  {"transform":[{"filter":"datum.s=='b'"}],"mark":{"type":"line","color":"#2035F2","strokeWidth":3,"point":{"filled":true,"size":18,"color":"#2035F2"}},
   "encoding":{"x":{"field":"t","type":"quantitative","scale":{"domain":[0,100],"nice":false,"zero":false},"axis":{"orient":"bottom","values":[10,30,50,70,90],"labels":false,"domain":false,"title":null,"tickSize":3}},
               "y":{"field":"v","type":"quantitative","scale":{"domain":[0,200],"nice":false,"zero":false},"axis":{"orient":"left","values":[20,60,100,140,180],"labels":false,"domain":false,"title":null,"tickSize":3}}}},
  {"transform":[{"filter":"datum.s=='fo'"}],"mark":{"type":"line","color":"black","strokeWidth":2.5},
   "encoding":{"x":{"field":"t","type":"quantitative","scale":{"domain":[0,100],"nice":false,"zero":false},"axis":{"orient":"top","values":[0,10,20,30,40,50,60,70,80,90,100],"labels":false,"title":null,"tickSize":-4,"domainWidth":1.5,"tickWidth":1.5}},
               "y":{"field":"v","type":"quantitative","scale":{"domain":[0,200],"nice":false,"zero":false},"axis":{"orient":"right","values":[0,20,40,60,80,100,120,140,160,180,200],"labels":false,"title":null,"tickSize":-4,"domainWidth":1.5,"tickWidth":1.5}}}},
  {"transform":[{"filter":"datum.s=='fb'"}],"mark":{"type":"line","color":"black","strokeWidth":2.5},
   "encoding":{"x":{"field":"t","type":"quantitative","scale":{"domain":[0,100],"nice":false,"zero":false},"axis":null},"y":{"field":"v","type":"quantitative","scale":{"domain":[0,200],"nice":false,"zero":false},"axis":null}}}
 ]},
{"width":244,"height":167,"title":{"text":"nonanol"},"data":{"name":"d3"},
 "resolve":{"axis":{"x":"independent","y":"independent"}},
 "layer":[
  {"transform":[{"filter":"datum.s=='o'"}],"mark":{"type":"line","color":"#EF8A2C","strokeWidth":3.5,"point":{"filled":true,"size":18,"color":"#EF8A2C"}},
   "encoding":{"x":{"field":"t","type":"quantitative","scale":{"domain":[0,220],"nice":false,"zero":false},"axis":{"orient":"bottom","values":[0,40,80,120,160,200],"title":"Time (s)"}},
               "y":{"field":"v","type":"quantitative","scale":{"domain":[0,200],"nice":false,"zero":false},"axis":{"orient":"left","values":[0,40,80,120,160,200],"title":"Distance (mm)"}}}},
  {"transform":[{"filter":"datum.s=='b'"}],"mark":{"type":"line","color":"#2035F2","strokeWidth":4,"point":{"filled":true,"size":20,"color":"#2035F2"}},
   "encoding":{"x":{"field":"t","type":"quantitative","scale":{"domain":[0,220],"nice":false,"zero":false},"axis":{"orient":"bottom","values":[20,60,100,140,180,220],"labels":false,"domain":false,"title":null,"tickSize":3}},
               "y":{"field":"v","type":"quantitative","scale":{"domain":[0,200],"nice":false,"zero":false},"axis":{"orient":"left","values":[20,60,100,140,180],"labels":false,"domain":false,"title":null,"tickSize":3}}}},
  {"transform":[{"filter":"datum.s=='fo'"}],"mark":{"type":"line","color":"black","strokeWidth":3},
   "encoding":{"x":{"field":"t","type":"quantitative","scale":{"domain":[0,220],"nice":false,"zero":false},"axis":{"orient":"top","values":[0,20,40,60,80,100,120,140,160,180,200,220],"labels":false,"title":null,"tickSize":-4,"domainWidth":1.5,"tickWidth":1.5}},
               "y":{"field":"v","type":"quantitative","scale":{"domain":[0,200],"nice":false,"zero":false},"axis":{"orient":"right","values":[0,20,40,60,80,100,120,140,160,180,200],"labels":false,"title":null,"tickSize":-4,"domainWidth":1.5,"tickWidth":1.5}}}},
  {"transform":[{"filter":"datum.s=='fb'"}],"mark":{"type":"line","color":"black","strokeWidth":3},
   "encoding":{"x":{"field":"t","type":"quantitative","scale":{"domain":[0,220],"nice":false,"zero":false},"axis":null},"y":{"field":"v","type":"quantitative","scale":{"domain":[0,200],"nice":false,"zero":false},"axis":null}}}
 ]},
{"width":248,"height":167,"title":{"text":"(b)","anchor":"start","frame":"bounds","offset":4,"dx":-18,"fontSize":22},"data":{"name":"d4"},
 "resolve":{"axis":{"x":"independent","y":"independent"}},
 "layer":[
  {"transform":[{"filter":"datum.s=='o'"}],"mark":{"type":"line","color":"#EF8A2C","strokeWidth":1.5,"point":{"filled":true,"size":24,"color":"#EF8A2C"}},
   "encoding":{"x":{"field":"t","type":"quantitative","scale":{"domain":[0,35],"nice":false,"zero":false},"axis":{"orient":"bottom","values":[0,5,10,15,20,25,30,35],"title":"Time (s)"}},
               "y":{"field":"v","type":"quantitative","scale":{"domain":[0,70],"nice":false,"zero":false},"axis":{"orient":"left","values":[0,20,40,60],"title":"Velocity (mm/s)"}}}},
  {"transform":[{"filter":"datum.s=='b'"}],"mark":{"type":"line","color":"#2035F2","strokeWidth":1.5,"point":{"filled":true,"size":24,"color":"#2035F2"}},
   "encoding":{"x":{"field":"t","type":"quantitative","scale":{"domain":[0,35],"nice":false,"zero":false},"axis":{"orient":"bottom","values":[2.5,7.5,12.5,17.5,22.5,27.5,32.5],"labels":false,"domain":false,"title":null,"tickSize":3}},
               "y":{"field":"v","type":"quantitative","scale":{"domain":[0,70],"nice":false,"zero":false},"axis":{"orient":"left","values":[10,30,50,70],"labels":false,"domain":false,"title":null,"tickSize":3}}}},
  {"transform":[{"filter":"datum.s=='fo'"}],"mark":{"type":"line","color":"black","strokeWidth":3},
   "encoding":{"x":{"field":"t","type":"quantitative","scale":{"domain":[0,35],"nice":false,"zero":false},"axis":{"orient":"top","values":[0,2.5,5,7.5,10,12.5,15,17.5,20,22.5,25,27.5,30,32.5,35],"labels":false,"title":null,"tickSize":-4,"domainWidth":1.5,"tickWidth":1.5}},
               "y":{"field":"v","type":"quantitative","scale":{"domain":[0,70],"nice":false,"zero":false},"axis":{"orient":"right","values":[0,10,20,30,40,50,60,70],"labels":false,"title":null,"tickSize":-4,"domainWidth":1.5,"tickWidth":1.5}}}},
  {"transform":[{"filter":"datum.s=='fb'"}],"mark":{"type":"line","color":"black","strokeWidth":3},
   "encoding":{"x":{"field":"t","type":"quantitative","scale":{"domain":[0,35],"nice":false,"zero":false},"axis":null},"y":{"field":"v","type":"quantitative","scale":{"domain":[0,70],"nice":false,"zero":false},"axis":null}}}
 ]},
{"width":248,"height":167,"data":{"name":"d5"},
 "resolve":{"axis":{"x":"independent","y":"independent"}},
 "layer":[
  {"transform":[{"filter":"datum.s=='o'"}],"mark":{"type":"line","color":"#EF8A2C","strokeWidth":1.5,"point":{"filled":true,"size":24,"color":"#EF8A2C"}},
   "encoding":{"x":{"field":"t","type":"quantitative","scale":{"domain":[0,100],"nice":false,"zero":false},"axis":{"orient":"bottom","values":[0,20,40,60,80,100],"title":"Time (s)"}},
               "y":{"field":"v","type":"quantitative","scale":{"domain":[0,35],"nice":false,"zero":false},"axis":{"orient":"left","values":[0,10,20,30],"title":"Velocity (mm/s)"}}}},
  {"transform":[{"filter":"datum.s=='b'"}],"mark":{"type":"line","color":"#2035F2","strokeWidth":1.5,"point":{"filled":true,"size":24,"color":"#2035F2"}},
   "encoding":{"x":{"field":"t","type":"quantitative","scale":{"domain":[0,100],"nice":false,"zero":false},"axis":{"orient":"bottom","values":[10,30,50,70,90],"labels":false,"domain":false,"title":null,"tickSize":3}},
               "y":{"field":"v","type":"quantitative","scale":{"domain":[0,35],"nice":false,"zero":false},"axis":{"orient":"left","values":[5,15,25,35],"labels":false,"domain":false,"title":null,"tickSize":3}}}},
  {"transform":[{"filter":"datum.s=='fo'"}],"mark":{"type":"line","color":"black","strokeWidth":3},
   "encoding":{"x":{"field":"t","type":"quantitative","scale":{"domain":[0,100],"nice":false,"zero":false},"axis":{"orient":"top","values":[0,10,20,30,40,50,60,70,80,90,100],"labels":false,"title":null,"tickSize":-4,"domainWidth":1.5,"tickWidth":1.5}},
               "y":{"field":"v","type":"quantitative","scale":{"domain":[0,35],"nice":false,"zero":false},"axis":{"orient":"right","values":[0,5,10,15,20,25,30,35],"labels":false,"title":null,"tickSize":-4,"domainWidth":1.5,"tickWidth":1.5}}}},
  {"transform":[{"filter":"datum.s=='fb'"}],"mark":{"type":"line","color":"black","strokeWidth":3},
   "encoding":{"x":{"field":"t","type":"quantitative","scale":{"domain":[0,100],"nice":false,"zero":false},"axis":null},"y":{"field":"v","type":"quantitative","scale":{"domain":[0,35],"nice":false,"zero":false},"axis":null}}}
 ]},
{"width":244,"height":167,"data":{"name":"d6"},
 "resolve":{"axis":{"x":"independent","y":"independent"}},
 "layer":[
  {"transform":[{"filter":"datum.s=='o'"}],"mark":{"type":"line","color":"#EF8A2C","strokeWidth":1.5,"point":{"filled":true,"size":24,"color":"#EF8A2C"}},
   "encoding":{"x":{"field":"t","type":"quantitative","scale":{"domain":[0,220],"nice":false,"zero":false},"axis":{"orient":"bottom","values":[0,40,80,120,160,200],"title":"Time (s)"}},
               "y":{"field":"v","type":"quantitative","scale":{"domain":[0,16],"nice":false,"zero":false},"axis":{"orient":"left","values":[0,4,8,12,16],"title":"Velocity (mm/s)"}}}},
  {"transform":[{"filter":"datum.s=='b'"}],"mark":{"type":"line","color":"#2035F2","strokeWidth":1.5,"point":{"filled":true,"size":24,"color":"#2035F2"}},
   "encoding":{"x":{"field":"t","type":"quantitative","scale":{"domain":[0,220],"nice":false,"zero":false},"axis":{"orient":"bottom","values":[20,60,100,140,180,220],"labels":false,"domain":false,"title":null,"tickSize":3}},
               "y":{"field":"v","type":"quantitative","scale":{"domain":[0,16],"nice":false,"zero":false},"axis":{"orient":"left","values":[2,6,10,14],"labels":false,"domain":false,"title":null,"tickSize":3}}}},
  {"transform":[{"filter":"datum.s=='fo'"}],"mark":{"type":"line","color":"black","strokeWidth":3},
   "encoding":{"x":{"field":"t","type":"quantitative","scale":{"domain":[0,220],"nice":false,"zero":false},"axis":{"orient":"top","values":[0,20,40,60,80,100,120,140,160,180,200,220],"labels":false,"title":null,"tickSize":-4,"domainWidth":1.5,"tickWidth":1.5}},
               "y":{"field":"v","type":"quantitative","scale":{"domain":[0,16],"nice":false,"zero":false},"axis":{"orient":"right","values":[0,2,4,6,8,10,12,14,16],"labels":false,"title":null,"tickSize":-4,"domainWidth":1.5,"tickWidth":1.5}}}},
  {"transform":[{"filter":"datum.s=='fb'"}],"mark":{"type":"line","color":"black","strokeWidth":3},
   "encoding":{"x":{"field":"t","type":"quantitative","scale":{"domain":[0,220],"nice":false,"zero":false},"axis":null},"y":{"field":"v","type":"quantitative","scale":{"domain":[0,16],"nice":false,"zero":false},"axis":null}}}
 ]}
],
"config":{
 "view":{"stroke":null},
 "font":"Liberation Sans",
 "axis":{"domainColor":"black","domainWidth":2,"tickColor":"black","tickWidth":2,"tickSize":6,"labelFont":"Liberation Sans","labelFontSize":19,"labelFontWeight":"bold","labelColor":"black","labelPadding":4,"labelOverlap":false,"labelFlush":false,"titleFont":"Liberation Sans","titleFontSize":20,"titleFontWeight":"bold","titleColor":"black","titlePadding":3,"grid":false},
 "title":{"font":"Liberation Sans","fontSize":24,"fontWeight":"normal","color":"#333333","offset":14}
}
}
